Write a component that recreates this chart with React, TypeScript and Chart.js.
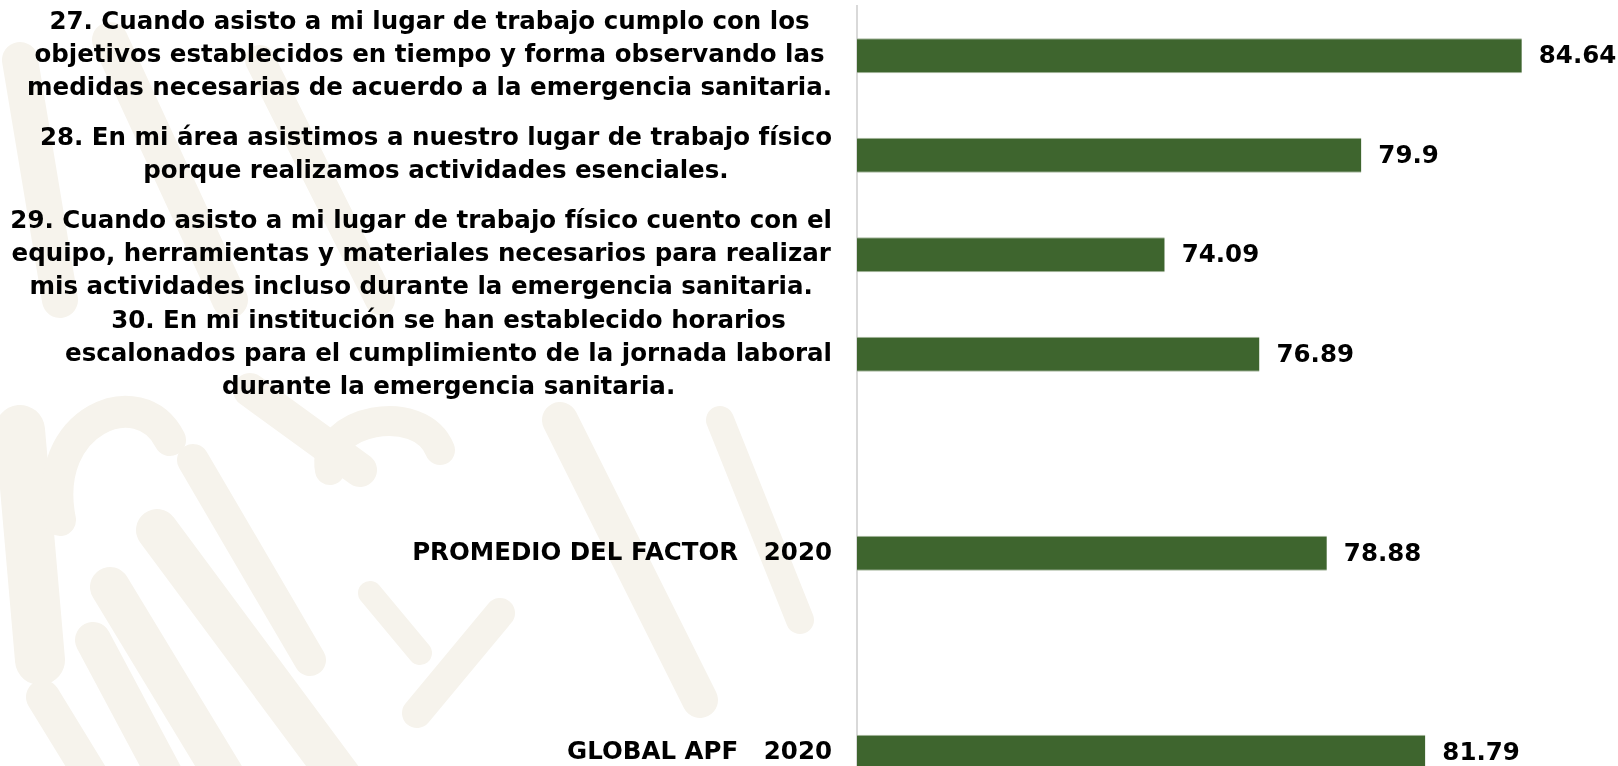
import React, { useEffect, useRef } from "react";
import { Chart, registerables } from "chart.js";

Chart.register(...registerables);

const categoryLines: string[][] = [
  [
    "27. Cuando asisto a mi lugar de trabajo cumplo con los",
    "objetivos establecidos en tiempo y forma observando las",
    "medidas necesarias de acuerdo a la emergencia sanitaria.",
  ],
  [
    "28. En mi área asistimos a nuestro lugar de trabajo físico",
    "porque realizamos actividades esenciales.",
  ],
  [
    "29. Cuando asisto a mi lugar de trabajo físico cuento con el",
    "equipo, herramientas y materiales necesarios para realizar",
    "mis actividades incluso durante la emergencia sanitaria.",
  ],
  [
    "30. En mi institución se han establecido horarios",
    "escalonados para el cumplimiento de la jornada laboral",
    "durante la emergencia sanitaria.",
  ],
  [""],
  ["PROMEDIO DEL FACTOR   2020"],
  [""],
  ["GLOBAL APF   2020"],
];

const categories: string[] = categoryLines.map((l) => l.join(" "));
const values: (number | null)[] = [84.64, 79.9, 74.09, 76.89, null, 78.88, null, 81.79];

const X_MIN = 65;
const X_MAX = 85;

const FONT = "bold 24.5px 'DejaVu Sans', 'Noto Sans', sans-serif";

const labelsPlugin = {
  id: "customLabels",
  afterDatasetsDraw(chart: any) {
    const { ctx, scales } = chart;
    const y = scales.y;
    const x = scales.x;
    ctx.save();
    ctx.font = FONT;
    ctx.fillStyle = "#000000";
    ctx.textBaseline = "middle";
    const rightEdge = chart.chartArea.left - 25;
    const lineH = 33;
    categoryLines.forEach((lines, i) => {
      const cy = y.getPixelForValue(i);
      const widths = lines.map((l) => ctx.measureText(l).width);
      const maxW = Math.max(...widths);
      const cx = rightEdge - maxW / 2;
      ctx.textAlign = "center";
      lines.forEach((l, j) => {
        ctx.fillText(l, cx, cy + (j - (lines.length - 1) / 2) * lineH);
      });
      const v = values[i];
      if (v !== null && v !== undefined) {
        ctx.textAlign = "left";
        ctx.fillText(String(v), x.getPixelForValue(v) + 17, cy + 1);
      }
    });
    ctx.restore();
  },
};

function Watermark() {
  const c = "#f6f3ec";
  const strokes: [number, number, number, number, number][] = [
    [193, 460, 310, 660, 32],
    [157, 530, 350, 790, 42],
    [110, 587, 233, 790, 40],
    [93, 640, 173, 790, 36],
    [43, 697, 100, 790, 34],
    [370, 593, 420, 653, 24],
    [417, 713, 500, 613, 30],
    [250, 390, 360, 470, 34],
    [20, 430, 40, 660, 50],
    [110, 40, 230, 300, 36],
    [260, 60, 380, 300, 30],
    [20, 60, 60, 300, 36],
    [560, 420, 700, 700, 36],
    [720, 420, 800, 620, 28],
  ];
  return (
    <svg
      width={1618}
      height={766}
      style={{ position: "fixed", left: 0, top: 0, zIndex: 0 }}
    >
      {strokes.map(([x1, y1, x2, y2, w], i) => (
        <line
          key={i}
          x1={x1}
          y1={y1}
          x2={x2}
          y2={y2}
          stroke={c}
          strokeWidth={w}
          strokeLinecap="round"
        />
      ))}
      <path
        d="M 60 520 C 40 420, 140 380, 170 440"
        stroke={c}
        strokeWidth={32}
        fill="none"
        strokeLinecap="round"
      />
      <path
        d="M 330 470 C 320 420, 420 400, 440 450"
        stroke={c}
        strokeWidth={30}
        fill="none"
        strokeLinecap="round"
      />
    </svg>
  );
}

export default function App() {
  const canvasRef = useRef<HTMLCanvasElement | null>(null);

  useEffect(() => {
    if (!canvasRef.current) return;
    const chart = new Chart(canvasRef.current, {
      type: "bar",
      data: {
        labels: categories,
        datasets: [
          {
            data: values as any,
            backgroundColor: "#3e652e",
            borderColor: "#a9b9a0",
            borderWidth: { top: 1, bottom: 1, left: 0, right: 0 } as any,
            borderSkipped: false,
            categoryPercentage: 1,
            barPercentage: 0.35,
          },
        ],
      },
      options: {
        indexAxis: "y",
        responsive: false,
        animation: false,
        devicePixelRatio: 1,
        layout: { padding: { left: 857, right: 84, top: 6, bottom: 4 } },
        plugins: {
          legend: { display: false },
          tooltip: { enabled: false },
        },
        scales: {
          x: {
            display: false,
            min: X_MIN,
            max: X_MAX,
          },
          y: {
            display: true,
            ticks: { display: false },
            grid: { display: false, drawTicks: false },
            border: { display: true, color: "#d9d9d9", width: 2 },
            afterFit(scale: any) {
              scale.width = 0;
            },
          },
        },
      },
      plugins: [labelsPlugin],
    });
    return () => chart.destroy();
  }, []);

  return (
    <div>
      <Watermark />
      <canvas
        ref={canvasRef}
        width={1618}
        height={806}
        style={{ position: "fixed", left: 0, top: 0, zIndex: 1, width: 1618, height: 806 }}
      />
    </div>
  );
}
